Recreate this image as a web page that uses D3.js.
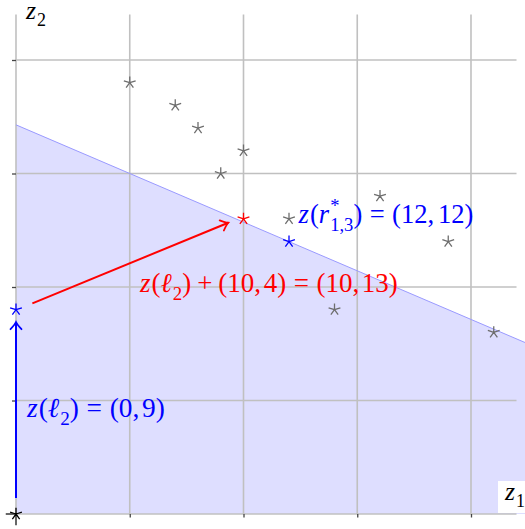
<!DOCTYPE html>
<html><head><meta charset="utf-8">
<script src="https://cdn.jsdelivr.net/npm/d3@7"></script>
<style>html,body{margin:0;padding:0;background:#fff;}svg{display:block;} text{font-family:'Liberation Serif','DejaVu Serif',serif;}</style>
</head><body>
<svg id="c" width="525" height="529"></svg>
<script>
// ---- data ----
const gridTicks = [0, 5, 10, 15, 20];
const axisTicks = [5, 10, 15, 20];
const grayStars = [[5,19],[7,18],[8,17],[9,15],[10,16],[12,13],[16,14],[14,9],[19,12],[21,8]];
const blueStars = [[0,9],[12,12]];
const redStars = [[10,13]];
const blackStars = [[0,0]];
const boundaryCoef = [3, 7, 120]; // 3 z1 + 7 z2 = 120
const blueArrow = [[0,0.7],[0,8.45]];
const redArrow = [[0.72,9.28],[9.33,12.83]];

const svg = d3.select("#c");
const x = d3.scaleLinear().domain([0,22]).range([16, 516.5]);
const y = d3.scaleLinear().domain([0,22]).range([514, 14.6]);
const FONT = "'Liberation Serif','DejaVu Serif',serif";

// shaded half-plane
const xmax = 23;
const f = z => (boundaryCoef[2] - boundaryCoef[0]*z)/boundaryCoef[1];
const poly = [[0,0],[0,f(0)],[xmax,f(xmax)],[xmax,0]];
svg.append("path").attr("d", d3.line().x(d=>x(d[0])).y(d=>y(d[1]))(poly)+"Z")
  .attr("fill", "#dedeff");

// grid
const grid = svg.append("g").attr("stroke", "#c0c0c0").attr("stroke-width", 1.6);
gridTicks.forEach(t => {
  grid.append("line").attr("x1", x(t)).attr("x2", x(t)).attr("y1", y(0)).attr("y2", y(22));
  grid.append("line").attr("x1", x(0)).attr("x2", x(22)).attr("y1", y(t)).attr("y2", y(t));
});

// ticks via d3 axes
const ax1 = svg.append("g").attr("transform", `translate(0,${y(0)})`)
  .call(d3.axisBottom(x).tickValues(axisTicks).tickSize(3.5).tickFormat(""));
const ax2 = svg.append("g").attr("transform", `translate(${x(0)},0)`)
  .call(d3.axisLeft(y).tickValues(axisTicks).tickSize(4).tickFormat(""));
[ax1, ax2].forEach(a => { a.select(".domain").remove(); a.selectAll(".tick line").attr("stroke", "#444").attr("stroke-width", 1.3); });

// black stubs at origin
svg.append("line").attr("x1", x(-0.45)).attr("x2", x(0)).attr("y1", y(0)).attr("y2", y(0)).attr("stroke", "#000").attr("stroke-width", 1.2);
svg.append("line").attr("x1", x(0)).attr("x2", x(0)).attr("y1", y(0)).attr("y2", y(-0.5)).attr("stroke", "#000").attr("stroke-width", 1.2);

// boundary line
svg.append("line").attr("x1", x(0)).attr("y1", y(f(0))).attr("x2", x(xmax)).attr("y2", y(f(xmax)))
  .attr("stroke", "#9a9aff").attr("stroke-width", 1);

// stars
function starPath(r) {
  let p = "";
  for (let k = 0; k < 5; k++) {
    const a = (-90 + 72*k) * Math.PI/180;
    p += `M0,0L${(r*Math.cos(a)).toFixed(2)},${(r*Math.sin(a)).toFixed(2)}`;
  }
  return p;
}
function stars(data, color) {
  svg.append("g").selectAll("path").data(data).join("path")
    .attr("d", starPath(6.2))
    .attr("transform", d => `translate(${x(d[0])},${y(d[1])})`)
    .attr("stroke", color).attr("stroke-width", 1.3).attr("fill", "none");
}
stars(grayStars, "#6e6e6e");
stars(blueStars, "#0000ff");
stars(redStars, "#ff0000");
stars(blackStars, "#000");

// arrows
function arrow(pts, color) {
  const [p0, p1] = pts.map(d => [x(d[0]), y(d[1])]);
  svg.append("line").attr("x1", p0[0]).attr("y1", p0[1]).attr("x2", p1[0]).attr("y2", p1[1])
    .attr("stroke", color).attr("stroke-width", 2);
  const dx = p1[0]-p0[0], dy = p1[1]-p0[1], L = Math.hypot(dx, dy);
  const ux = dx/L, uy = dy/L, nx = -uy, ny = ux;
  const back = 7, w = 5.5;
  const b1 = [p1[0]-ux*back+nx*w, p1[1]-uy*back+ny*w];
  const b2 = [p1[0]-ux*back-nx*w, p1[1]-uy*back-ny*w];
  const c1 = [p1[0]-ux*2.5+nx*1.2, p1[1]-uy*2.5+ny*1.2];
  const c2 = [p1[0]-ux*2.5-nx*1.2, p1[1]-uy*2.5-ny*1.2];
  svg.append("path").attr("d", `M${b1}Q${c1} ${p1}Q${c2} ${b2}`)
    .attr("stroke", color).attr("stroke-width", 1.8).attr("fill", "none").attr("stroke-linecap", "round");
}
arrow(blueArrow, "#0000ff");
arrow(redArrow, "#ff0000");

// math text layout helper
function mathText(px, py, segs, color, size, target) {
  const g = svg.append("g");
  function txt(xx, yy, s, fs, it) {
    return g.append("text").attr("x", xx).attr("y", yy).text(s)
      .style("font-size", fs + "px").style("font-family", FONT)
      .style("font-style", it ? "italic" : "normal").attr("fill", color);
  }
  function layout(fs) {
    g.selectAll("*").remove();
    let cx = px;
    segs.forEach(s => {
      if (s.gap) { cx += s.gap*fs; return; }
      if (s.stack) {
        const a = txt(cx, py - 0.42*fs, s.stack[0], fs*0.7, false);
        const b = txt(cx, py + 0.3*fs, s.stack[1], fs*0.7, false);
        cx += Math.max(a.node().getComputedTextLength(), b.node().getComputedTextLength());
        return;
      }
      const t = txt(cx, py + (s.sub ? 0.28*fs : 0), s.t, fs*(s.sub ? 0.7 : 1), s.it);
      cx += t.node().getComputedTextLength() + (s.it ? 0.04*fs : 0);
    });
    return cx - px;
  }
  let w = layout(size);
  if (target) { layout(size * target / w); }
}

const lblBlue1 = [0.48, 4.27];
const lblRed = [5.45, 9.78];
const lblBlue2 = [12.42, 12.82];

mathText(x(lblBlue1[0]), y(lblBlue1[1]), [
  {t:"z", it:1},{t:"("},{t:"ℓ", it:1},{t:"2", sub:1},{t:")"},{gap:0.28},{t:"="},{gap:0.28},{t:"(0,"},{gap:0.1},{t:"9)"}
], "#0000ff", 20, 138);

mathText(x(lblRed[0]), y(lblRed[1]), [
  {t:"z", it:1},{t:"("},{t:"ℓ", it:1},{t:"2", sub:1},{t:")"},{gap:0.22},{t:"+"},{gap:0.22},{t:"(10,"},{gap:0.1},{t:"4)"},
  {gap:0.28},{t:"="},{gap:0.28},{t:"(10,"},{gap:0.1},{t:"13)"}
], "#ff0000", 20, 258);

mathText(x(lblBlue2[0]), y(lblBlue2[1]), [
  {t:"z", it:1},{t:"("},{t:"r", it:1},{stack:["*","1,3"]},{t:")"},{gap:0.28},{t:"="},{gap:0.28},{t:"(12,"},{gap:0.15},{t:"12)"}
], "#0000ff", 20, 175);

// axis labels
svg.append("rect").attr("x", 498).attr("y", 481).attr("width", 27).attr("height", 32).attr("fill", "#fff");
mathText(505, 500, [{t:"z", it:1},{t:"1", sub:1}], "#000", 21, 20);
mathText(26, 19, [{t:"z", it:1},{t:"2", sub:1}], "#000", 21, 20);
</script>
</body></html>
